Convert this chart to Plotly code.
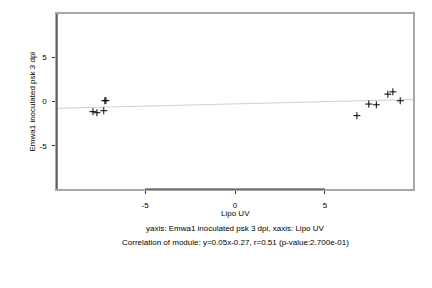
import plotly.graph_objects as go

# data
x_vals = [-7.90, -7.68, -7.30, -7.24, -7.18, 6.78, 7.44, 7.86, 8.50, 8.78, 9.19]
y_vals = [-1.15, -1.27, -1.04, 0.08, 0.12, -1.60, -0.29, -0.37, 0.83, 1.09, 0.08]
slope = 0.05
intercept = -0.27
x_range = [-9.9, 9.9]
y_range = [-9.9, 9.9]
tick_vals = [-5, 0, 5]
tick_text = ["-5", "0", "5"]
x_title = "Lipo UV"
y_title = "Emwa1 inoculated psk 3 dpi"
sub1 = "yaxis: Emwa1 inoculated psk 3 dpi, xaxis: Lipo UV"
sub2 = "Correlation of module: y=0.05x-0.27, r=0.51 (p-value:2.700e-01)"

FONT = "Liberation Sans, Arial, sans-serif"

fig = go.Figure()
fig.add_trace(go.Scatter(
    x=x_range, y=[slope * v + intercept for v in x_range], mode="lines",
    line=dict(color="#d0d0d0", width=1), hoverinfo="skip", showlegend=False))
fig.add_trace(go.Scatter(
    x=x_vals, y=y_vals, mode="markers",
    marker=dict(symbol="cross-thin", size=5, line=dict(color="black", width=1)),
    showlegend=False))

axis_common = dict(showgrid=False, zeroline=False, ticks="outside", ticklen=3,
                   tickcolor="#333333", tickwidth=1, showline=True, linecolor="#a8a8a8",
                   linewidth=1.5, mirror=True, tickvals=tick_vals, ticktext=tick_text,
                   tickfont=dict(family=FONT, size=8, color="black"))
fig.update_xaxes(range=x_range, ticklabelstandoff=5, **axis_common)
fig.update_yaxes(range=y_range, ticklabelstandoff=4, **axis_common)

# darker R-style axis lines spanning the ticks
fig.add_shape(type="line", xref="x", yref="paper", x0=tick_vals[0], x1=tick_vals[-1],
              y0=0, y1=0, line=dict(color="#333333", width=1))
fig.add_shape(type="line", xref="paper", yref="paper", x0=0, x1=0,
              y0=0, y1=1, line=dict(color="#333333", width=1.2))

ann_font = dict(family=FONT, size=8, color="black")
fig.add_annotation(text=x_title, xref="paper", yref="paper", x=0.5, y=0,
                   yanchor="middle", yshift=-24, showarrow=False, font=ann_font)
fig.add_annotation(text=sub1, xref="paper", yref="paper", x=0.5, y=0,
                   yanchor="middle", yshift=-39, showarrow=False, font=ann_font)
fig.add_annotation(text=sub2, xref="paper", yref="paper", x=0.5, y=0,
                   yanchor="middle", yshift=-53, showarrow=False, font=ann_font)
fig.add_annotation(text=y_title, xref="paper", yref="paper", x=0, y=0.5,
                   xanchor="center", xshift=-25, textangle=-90, showarrow=False,
                   font=ann_font)

fig.update_layout(width=432, height=288, margin=dict(l=57, r=19, t=12, b=99),
                  paper_bgcolor="white", plot_bgcolor="white")
fig.write_html("out.html")
